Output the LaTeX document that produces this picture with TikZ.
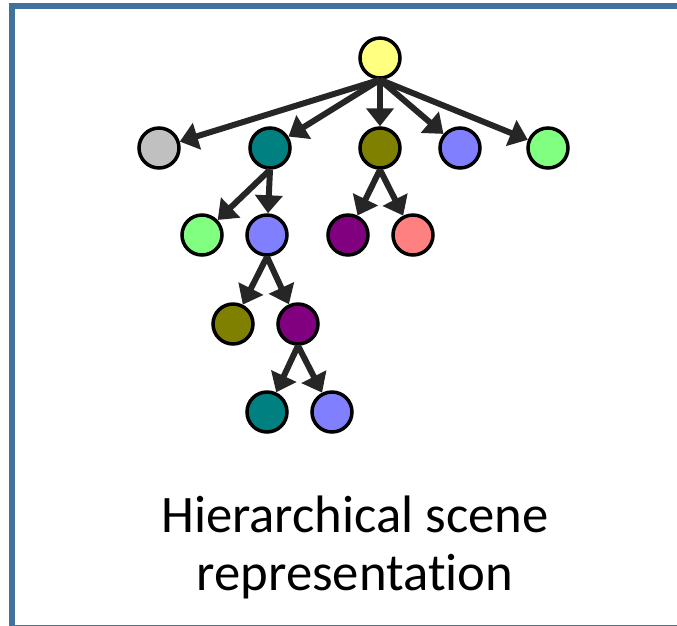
\documentclass[tikz,border=0pt]{standalone}
\usepackage{fontspec}
\setmainfont{Carlito}[RawFeature=-liga]
\usetikzlibrary{arrows.meta, positioning}

\definecolor{frameblue}{HTML}{41719C}
\definecolor{cyellow}{HTML}{FFFF80}
\definecolor{cgray}{HTML}{C0C0C0}
\definecolor{cteal}{HTML}{008080}
\definecolor{colive}{HTML}{808000}
\definecolor{cblue}{HTML}{8080FF}
\definecolor{cgreen}{HTML}{80FF80}
\definecolor{cpurple}{HTML}{800080}
\definecolor{csalmon}{HTML}{FF8080}

\tikzset{
    obj/.style={draw, circle, line width=0.07cm, minimum size=0.8cm, inner sep=0pt},
    link/.style={-{Triangle[width=0.54cm, length=0.36cm]}, line width=0.12cm, draw=black!85},
}

\begin{document}
\begin{tikzpicture}[x=0.02cm, y=-0.02cm]

        \useasboundingbox (0,0) rectangle (677,626);
        \clip (0,0) rectangle (677,626);
        \draw[line width=0.12cm, draw=frameblue] (12,6) rectangle (700,628);

        % scene graph
        \node[obj, fill=cyellow] (root) at (380,58) {};

        \node[obj, fill=cgray] (G) at (159,148) {};
        \node[obj, fill=cteal] (T) at (270,148) {};
        \node[obj, fill=colive] (O) at (380,148) {};
        \node[obj, fill=cblue] (B) at (460,148) {};
        \node[obj, fill=cgreen] (N) at (548,148) {};

        \node[obj, fill=cgreen] (T1) at (202,235) {};
        \node[obj, fill=cblue] (T2) at (267,235) {};
        \node[obj, fill=cpurple] (O1) at (348,235) {};
        \node[obj, fill=csalmon] (O2) at (413,235) {};

        \node[obj, fill=colive] (T21) at (233,324) {};
        \node[obj, fill=cpurple] (T22) at (298,324) {};

        \node[obj, fill=cteal] (T221) at (267,412) {};
        \node[obj, fill=cblue] (T222) at (332,412) {};

        \draw[link] (root.south) -- (G);
        \draw[link] (root.south) -- (T);
        \draw[link] (root.south) -- (O);
        \draw[link] (root.south) -- (B);
        \draw[link] (root.south) -- (N);

        \draw[link] (T.south) -- (T1);
        \draw[link] (T.south) -- (T2);
        \draw[link] (O.south) -- (O1);
        \draw[link] (O.south) -- (O2);

        \draw[link] (T2.south) -- (T21);
        \draw[link] (T2.south) -- (T22);
        \draw[link] (T22.south) -- (T221);
        \draw[link] (T22.south) -- (T222);

        \node[align=center, font=\fontsize{30}{33}\selectfont, inner sep=0pt] (caption) at (355,547)
            {Hierarchical scene\\representation};

    \end{tikzpicture}
\end{document}
